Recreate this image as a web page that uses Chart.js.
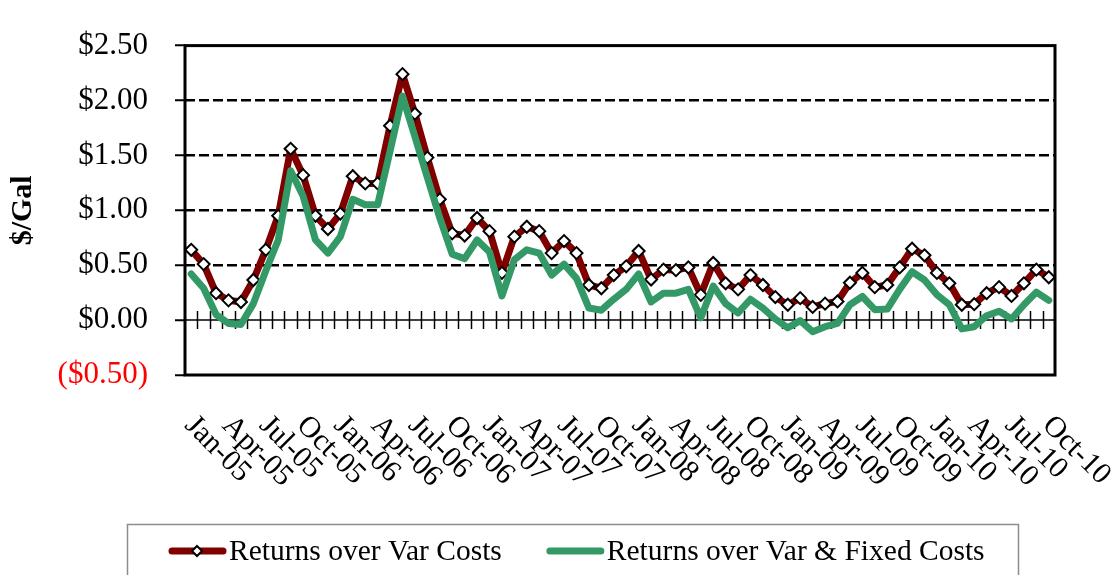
<!DOCTYPE html>
<html>
<head>
<meta charset="utf-8">
<script src="https://cdn.jsdelivr.net/npm/chart.js@4.4.1/dist/chart.umd.min.js"></script>
<style>
  html, body { margin: 0; padding: 0; background: #fff; }
</style>
</head>
<body>
<canvas id="mainChart" width="1116" height="575"></canvas>
<script>
// months Jan-05 .. Oct-10
const months = ['Jan', 'Feb', 'Mar', 'Apr', 'May', 'Jun', 'Jul', 'Aug', 'Sep', 'Oct', 'Nov', 'Dec'];
const years = ['05', '06', '07', '08', '09', '10'];
const lastLabel = 'Oct-10';

const returnsVar = [
    0.64, 0.51, 0.245, 0.18, 0.165, 0.365, 0.64, 0.95, 1.56, 1.32,
    0.95, 0.83, 0.97, 1.31, 1.245, 1.245, 1.77, 2.24, 1.88, 1.48,
    1.10, 0.79, 0.77, 0.93, 0.81, 0.43, 0.76, 0.85, 0.81, 0.61,
    0.72, 0.61, 0.32, 0.29, 0.41, 0.49, 0.63, 0.37, 0.46, 0.455,
    0.48, 0.23, 0.52, 0.335, 0.28, 0.41, 0.32, 0.21, 0.14, 0.20,
    0.12, 0.15, 0.17, 0.34, 0.43, 0.30, 0.32, 0.48, 0.65, 0.59,
    0.43, 0.335, 0.14, 0.145, 0.245, 0.30, 0.22, 0.335, 0.46, 0.39
];
const returnsVarFixed = [
    0.42, 0.29, 0.05, -0.03, -0.04, 0.15, 0.45, 0.73, 1.36, 1.13,
    0.73, 0.61, 0.76, 1.10, 1.05, 1.05, 1.54, 2.04, 1.67, 1.30,
    0.93, 0.60, 0.56, 0.73, 0.62, 0.22, 0.55, 0.64, 0.61, 0.41,
    0.51, 0.38, 0.11, 0.09, 0.19, 0.28, 0.42, 0.165, 0.245, 0.245,
    0.28, 0.02, 0.31, 0.15, 0.065, 0.19, 0.11, 0.01, -0.07, -0.005,
    -0.105, -0.06, -0.03, 0.14, 0.215, 0.095, 0.10, 0.28, 0.44, 0.365,
    0.23, 0.14, -0.08, -0.06, 0.04, 0.08, 0.01, 0.14, 0.255, 0.18
];
const yTicks = [-0.5, 0, 0.5, 1, 1.5, 2, 2.5];
const yTitle = '$/Gal';

let labels = [];
for (const y of years) {
    for (const m of months) {
        if (labels[labels.length - 1] === lastLabel) break;
        labels.push(m + '-' + y);
    }
}

const FONT = "'Liberation Serif', 'Times New Roman', serif";

function money(v) {
    let s = '$' + Math.abs(v).toFixed(2);
    return v < 0 ? '(' + s + ')' : s;
}

// zero line with crossing ticks, drawn under the series
const zeroAxis = {
    id: 'zeroAxis',
    beforeDatasetsDraw(chart) {
        const ctx = chart.ctx;
        const x = chart.scales.x, y = chart.scales.y;
        const y0 = y.getPixelForValue(0);
        const step = x.getPixelForValue(1) - x.getPixelForValue(0);
        ctx.save();
        ctx.strokeStyle = '#000';
        ctx.lineWidth = 1.5;
        ctx.beginPath();
        ctx.moveTo(chart.chartArea.left, y0);
        ctx.lineTo(chart.chartArea.right, y0);
        for (let i = 1; i < labels.length; i++) {
            const px = Math.round(x.getPixelForValue(i) - step / 2) + 0.5;
            ctx.moveTo(px, y0 - 9);
            ctx.lineTo(px, y0 + 9);
        }
        ctx.stroke();
        ctx.restore();
    }
};

// frame, axis title, slanted month labels and boxed legend
const decorations = {
    id: 'decorations',
    afterDraw(chart) {
        const ctx = chart.ctx;
        const a = chart.chartArea;
        const x = chart.scales.x;
        ctx.save();
        ctx.strokeStyle = '#000';
        ctx.lineWidth = 3;
        ctx.strokeRect(a.left, a.top, a.right - a.left, a.bottom - a.top);

        ctx.save();
        ctx.translate(23, (a.top + a.bottom) / 2);
        ctx.rotate(-Math.PI / 2);
        ctx.font = 'bold 30px ' + FONT;
        ctx.fillStyle = '#000';
        ctx.textAlign = 'center';
        ctx.textBaseline = 'middle';
        ctx.fillText(yTitle, 0, 0);
        ctx.restore();

        ctx.fillStyle = '#000';
        ctx.font = '30px ' + FONT;
        ctx.textAlign = 'left';
        ctx.textBaseline = 'middle';
        labels.forEach((lab, i) => {
            if (i % 3 !== 0) return;
            const px = x.getPixelForValue(i);
            ctx.save();
            ctx.translate(px - 2, a.bottom + 46);
            ctx.rotate(Math.PI / 4);
            ctx.fillText(lab, 0, 0);
            ctx.restore();
        });

        // legend
        ctx.strokeStyle = '#8c8c8c';
        ctx.lineWidth = 1.5;
        ctx.strokeRect(127.5, 524.5, 891, 80);
        const ly = 551;
        let lx = 169;
        chart.data.datasets.forEach((ds, i) => {
            ctx.strokeStyle = ds.borderColor;
            ctx.lineWidth = 7;
            ctx.lineCap = 'round';
            ctx.beginPath();
            ctx.moveTo(lx + 3, ly);
            ctx.lineTo(lx + 54, ly);
            ctx.stroke();
            if (ds.pointRadius > 0) {
                const cx = lx + 28, r = 5;
                ctx.beginPath();
                ctx.moveTo(cx, ly - r);
                ctx.lineTo(cx + r, ly);
                ctx.lineTo(cx, ly + r);
                ctx.lineTo(cx - r, ly);
                ctx.closePath();
                ctx.fillStyle = '#fff';
                ctx.fill();
                ctx.lineWidth = 2;
                ctx.strokeStyle = '#000';
                ctx.stroke();
            }
            ctx.fillStyle = '#000';
            ctx.font = '29.5px ' + FONT;
            ctx.textBaseline = 'middle';
            ctx.fillText(ds.label, lx + 60, ly + 1);
            lx += 60 + ctx.measureText(ds.label).width + 45;
        });
        ctx.restore();
    }
};

var ctx = document.getElementById('mainChart').getContext('2d');
var mainChart = new Chart(ctx, {
    type: 'line',
    data: {
        labels: labels,
        datasets: [{
            label: 'Returns over Var Costs',
            data: returnsVar,
            borderColor: '#800000',
            borderWidth: 7,
            borderJoinStyle: 'round',
            pointStyle: 'rectRot',
            pointRadius: 6,
            pointBackgroundColor: '#fff',
            pointBorderColor: '#000',
            pointBorderWidth: 2,
            tension: 0,
            order: 1
        }, {
            label: 'Returns over Var & Fixed Costs',
            data: returnsVarFixed,
            borderColor: '#339966',
            borderWidth: 7,
            borderJoinStyle: 'round',
            borderCapStyle: 'round',
            pointRadius: 0,
            tension: 0,
            order: 0
        }]
    },
    options: {
        responsive: false,
        animation: false,
        layout: {
            padding: { top: 23, right: 61, left: 0, bottom: 0 }
        },
        plugins: {
            legend: { display: false },
            tooltip: { enabled: false }
        },
        scales: {
            x: {
                offset: true,
                ticks: { display: false },
                grid: { display: false, offset: true },
                border: { display: false },
                afterFit: function(scale) { scale.height = 200; }
            },
            y: {
                min: -0.5,
                max: 2.5,
                afterBuildTicks: function(scale) {
                    scale.ticks = yTicks.map(v => ({ value: v }));
                },
                afterFit: function(scale) { scale.width = 185; },
                border: { display: false, dash: [10, 4] },
                grid: {
                    color: function(c) {
                        const v = c.tick ? c.tick.value : null;
                        return (v === 0 || v === 2.5 || v === -0.5) ? 'rgba(0,0,0,0)' : '#000';
                    },
                    lineWidth: 2.5,
                    tickLength: 10,
                    tickColor: '#000',
                    tickWidth: 2,
                    tickBorderDash: []
                },
                ticks: {
                    padding: 27,
                    font: { family: FONT, size: 31 },
                    color: function(c) { return c.tick.value < 0 ? '#ff0000' : '#000'; },
                    callback: function(v) { return money(v); }
                }
            }
        }
    },
    plugins: [zeroAxis, decorations]
});
</script>
</body>
</html>
